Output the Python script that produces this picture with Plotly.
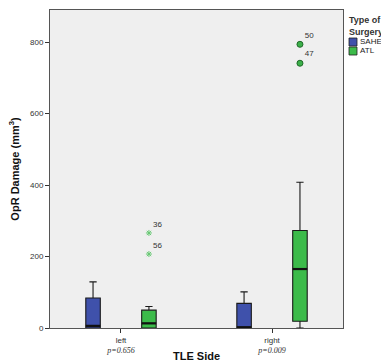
import plotly.graph_objects as go

sides = ["left", "right"]
p_values = ["p=0.656", "p=0.009"]
surgery_types = ["SAHE", "ATL"]
colors = {"SAHE": "#3f51ab", "ATL": "#3cbb4a"}

# box statistics per surgery type, ordered as sides
lowerfence = {"SAHE": [0, 0], "ATL": [0, 0]}
q1 = {"SAHE": [0, 0], "ATL": [0, 19]}
median = {"SAHE": [6, 2], "ATL": [13, 165]}
q3 = {"SAHE": [84, 69], "ATL": [50, 273]}
upperfence = {"SAHE": [129, 101], "ATL": [60, 408]}

# outliers (ATL)
out_left_vals = [266, 207]
out_left_ids = ["36", "56"]
out_right_vals = [794, 741]
out_right_ids = ["50", "47"]

offsets = {"SAHE": -0.185, "ATL": 0.185}
box_w = 0.096

FONT = "Liberation Sans"

fig = go.Figure()
for s in surgery_types:
    xs = [i + offsets[s] for i in range(len(sides))]
    fig.add_trace(go.Box(
        name=s, x=xs, q1=q1[s], median=median[s], q3=q3[s],
        lowerfence=lowerfence[s], upperfence=upperfence[s],
        width=box_w, whiskerwidth=0.5,
        fillcolor=colors[s], line=dict(color="#1a1a1a", width=1.1),
        boxpoints=False, showlegend=False, hoverinfo="skip",
    ))
    # thicker median line
    mx, my = [], []
    for x, m in zip(xs, median[s]):
        mx += [x - box_w / 2, x + box_w / 2, None]
        my += [m, m, None]
    fig.add_trace(go.Scatter(x=mx, y=my, mode="lines", line=dict(color="#111111", width=2.2),
                             showlegend=False, hoverinfo="skip"))

fig.add_trace(go.Scatter(
    x=[0 + offsets["ATL"]] * len(out_left_vals), y=out_left_vals,
    mode="markers+text", text=out_left_ids, textposition="top right",
    textfont=dict(size=8, color="#333333", family=FONT),
    marker=dict(symbol="asterisk-open", size=5, color="#66c872", line=dict(width=1, color="#66c872")),
    showlegend=False, hoverinfo="skip"))
fig.add_trace(go.Scatter(
    x=[1 + offsets["ATL"]] * len(out_right_vals), y=out_right_vals,
    mode="markers+text", text=out_right_ids, textposition="top right",
    textfont=dict(size=8, color="#333333", family=FONT),
    marker=dict(symbol="circle", size=6, color="#3cb04a", line=dict(width=1, color="#1f6a28")),
    showlegend=False, hoverinfo="skip"))

ticktext = [f"{s}<br><span style='font-family:Liberation Serif'><i>{p}</i></span>" for s, p in zip(sides, p_values)]

# custom legend (plot area spans px 50..343 horizontally, 10..328 vertically)
def px_x(px):
    return (px - 50) / 293.0

def px_y(py):
    return (328 - py) / 318.0

shapes = []
annotations = [dict(text="<b>Type of<br>Surgery</b>", x=px_x(347), y=px_y(13), xref="paper", yref="paper",
                    xanchor="left", yanchor="top", showarrow=False, align="left",
                    font=dict(size=9, color="#333333", family=FONT))]
for k, s in enumerate(surgery_types):
    top = 38 + 9 * k
    shapes.append(dict(type="rect", xref="paper", yref="paper", x0=px_x(349), x1=px_x(357),
                       y0=px_y(top + 8), y1=px_y(top), fillcolor=colors[s],
                       line=dict(color="#222222", width=0.8)))
    annotations.append(dict(text=s, x=px_x(358), y=px_y(top + 4), xref="paper", yref="paper",
                            xanchor="left", yanchor="middle", showarrow=False,
                            font=dict(size=8, color="#222222", family=FONT)))

fig.update_layout(
    width=381, height=362,
    margin=dict(l=50, r=38, t=10, b=34, autoexpand=False),
    paper_bgcolor="white", plot_bgcolor="#efefef",
    font=dict(family=FONT, size=8, color="#333333"),
    showlegend=False,
    shapes=shapes, annotations=annotations,
    xaxis=dict(
        range=[-0.47, 1.47], tickvals=[0, 1], ticktext=ticktext,
        ticks="outside", ticklen=4, tickcolor="#333333",
        showgrid=False, zeroline=False, showline=True, linecolor="#555555", mirror=True,
        title=dict(text="<b>TLE Side</b>", font=dict(size=11, color="#111111", family=FONT), standoff=0),
        tickfont=dict(size=8),
    ),
    yaxis=dict(
        range=[0, 890], tickvals=[0, 200, 400, 600, 800],
        ticks="outside", ticklen=4, tickcolor="#333333",
        showgrid=False, zeroline=False, showline=True, linecolor="#555555", mirror=True,
        title=dict(text="<b>OpR Damage (mm<sup>3</sup>)</b>", font=dict(size=11, color="#111111", family=FONT), standoff=8),
        tickfont=dict(size=8),
    ),
)

fig.write_html("out.html", config={"displayModeBar": False},
               post_script="document.body.style.margin='0';document.body.style.overflow='hidden';")
